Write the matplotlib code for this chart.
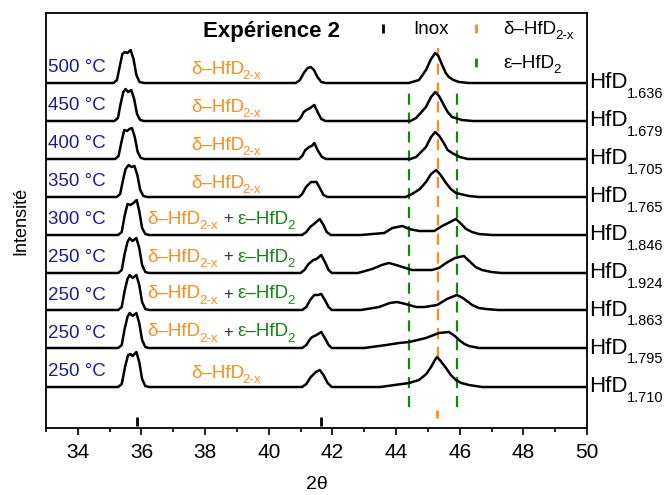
import matplotlib
matplotlib.use('Agg')
import matplotlib.pyplot as plt

plt.rcParams['font.family'] = ['Liberation Sans', 'DejaVu Sans']

# patterns, bottom to top is last to first; intensities above each baseline
temps = ['500 °C', '450 °C', '400 °C', '350 °C', '300 °C', '250 °C', '250 °C', '250 °C', '250 °C']
comps = ['1.636', '1.679', '1.705', '1.765', '1.846', '1.924', '1.863', '1.795', '1.710']
offsets = [345, 307, 269, 231, 193, 155, 118, 80, 41]
mixed = [False, False, False, False, True, True, True, True, False]

x_1636 = [33.0, 35.12, 35.23, 35.32, 35.40, 35.48, 35.56, 35.66, 35.75, 35.84, 35.94, 36.08,
          40.85, 40.98, 41.1, 41.22, 41.32, 41.42, 41.53, 41.65, 41.78,
          44.4, 44.72, 44.94, 45.1, 45.23, 45.33, 45.45, 45.56, 45.66, 45.8, 45.98, 46.3, 50.0]
y_1636 = [0, 0, 3, 17, 29, 31, 30, 33, 24, 8, 1, 0,
          0, 3, 10, 15, 16, 13, 6, 1, 0,
          0, 3, 13, 24, 30, 27, 18, 10, 6, 3, 1, 0, 0]

x_1679 = [33.0, 35.15, 35.26, 35.35, 35.43, 35.5, 35.58, 35.68, 35.77, 35.86, 35.96, 36.08,
          40.9, 41.0, 41.1, 41.18, 41.3, 41.43, 41.55, 41.65, 41.78,
          44.45, 44.63, 44.94, 45.1, 45.23, 45.35, 45.5, 45.62, 45.76, 46.07, 46.4, 50.0]
y_1679 = [0, 0, 3, 18, 29, 32, 29, 31, 22, 7, 1, 0,
          0, 3, 9, 11, 13, 16, 8, 2, 0,
          0, 3, 14, 24, 29, 25, 16, 9, 4, 1, 0, 0]

x_1705 = [33.0, 35.17, 35.28, 35.37, 35.46, 35.55, 35.62, 35.7, 35.79, 35.88, 35.98, 36.1,
          40.95, 41.05, 41.15, 41.27, 41.35, 41.43, 41.55, 41.67, 41.8,
          44.45, 44.63, 44.94, 45.1, 45.23, 45.36, 45.5, 45.62, 45.76, 46.0, 46.25, 50.0]
y_1705 = [0, 0, 3, 17, 29, 28, 30, 31, 22, 7, 1, 0,
          0, 3, 9, 12, 13, 16, 8, 2, 0,
          0, 2, 12, 22, 27, 23, 16, 9, 6, 2, 0, 0]

x_1765 = [33.0, 35.22, 35.33, 35.42, 35.5, 35.6, 35.68, 35.78, 35.87, 35.96, 36.06, 36.18,
          40.95, 41.05, 41.17, 41.33, 41.5, 41.62, 41.72, 41.85,
          44.3, 44.5, 44.75, 44.94, 45.1, 45.26, 45.4, 45.57, 45.72, 45.88, 46.29, 46.6, 50.0]
y_1765 = [0, 0, 3, 17, 28, 32, 30, 31, 22, 7, 1, 0,
          0, 3, 10, 15, 15, 8, 2, 0,
          0, 3, 8, 15, 23, 27, 22, 14, 8, 4, 1, 0, 0]

x_1846 = [33.0, 35.27, 35.38, 35.47, 35.56, 35.65, 35.75, 35.85, 35.93, 36.02, 36.12, 36.23,
          41.05, 41.18, 41.3, 41.42, 41.6, 41.72, 41.82, 41.95,
          42.9, 43.63, 43.88, 44.2, 44.41, 44.72, 45.2, 45.45, 45.7, 45.88, 46.05, 46.2, 46.39, 46.6, 47.0, 50.0]
y_1846 = [0, 0, 3, 19, 31, 30, 32, 35, 24, 7, 1, 0,
          0, 3, 8, 11, 16, 10, 3, 0,
          0, 2, 7, 9, 6, 4, 4, 9, 13, 16, 11, 6, 3, 1, 0, 0]

x_1924 = [33.0, 35.27, 35.38, 35.47, 35.56, 35.63, 35.72, 35.84, 35.93, 36.02, 36.12, 36.23,
          41.0, 41.12, 41.25, 41.4, 41.5, 41.65, 41.78, 41.88, 41.98,
          42.8, 43.25, 43.55, 43.78, 44.0, 44.2, 44.5, 45.13, 45.35, 45.57, 45.85, 46.13, 46.3, 46.5, 46.7, 47.0, 47.3, 50.0]
y_1924 = [0, 0, 3, 19, 31, 35, 32, 35, 25, 8, 1, 0,
          0, 3, 9, 13, 14, 18, 10, 3, 0,
          0, 4, 8, 10, 8, 6, 3, 3, 5, 10, 15, 17, 12, 6, 3, 1, 0, 0]

x_1863 = [33.0, 35.27, 35.38, 35.47, 35.56, 35.63, 35.72, 35.84, 35.93, 36.02, 36.12, 36.23,
          41.05, 41.18, 41.3, 41.43, 41.55, 41.65, 41.78, 41.88, 41.98,
          42.9, 43.47, 43.8, 44.03, 44.3, 44.63, 44.9, 45.29, 45.6, 45.91, 46.1, 46.39, 46.6, 46.82, 47.2, 50.0]
y_1863 = [0, 0, 3, 19, 31, 35, 32, 35, 25, 8, 1, 0,
          0, 3, 10, 15, 15, 16, 9, 3, 0,
          0, 3, 7, 8, 6, 3, 3, 5, 11, 15, 12, 5, 2, 1, 0, 0]

x_1795 = [33.0, 35.27, 35.38, 35.47, 35.56, 35.63, 35.72, 35.84, 35.93, 36.02, 36.12, 36.23,
          41.05, 41.18, 41.3, 41.37, 41.5, 41.65, 41.78, 41.88, 41.98,
          43.0, 43.69, 44.1, 44.41, 44.94, 45.35, 45.66, 45.85, 45.98, 46.15, 46.29, 46.6, 50.0]
y_1795 = [0, 0, 3, 19, 31, 35, 32, 35, 25, 8, 1, 0,
          0, 3, 9, 11, 13, 16, 9, 3, 0,
          0, 3, 5, 6, 10, 15, 16, 12, 8, 4, 2, 0, 0]

x_1710 = [33.0, 35.27, 35.38, 35.49, 35.58, 35.65, 35.72, 35.84, 35.93, 36.02, 36.12, 36.23,
          41.05, 41.18, 41.32, 41.48, 41.6, 41.72, 41.85, 41.98,
          43.5, 44.41, 44.72, 44.95, 45.1, 45.22, 45.29, 45.4, 45.57, 45.72, 45.88, 46.05, 46.29, 46.7, 50.0]
y_1710 = [0, 0, 3, 21, 32, 33, 31, 35, 25, 8, 1, 0,
          0, 3, 10, 15, 17, 12, 4, 0,
          0, 4, 7, 13, 20, 27, 30, 26, 19, 12, 7, 4, 2, 0, 0]

xs = [x_1636, x_1679, x_1705, x_1765, x_1846, x_1924, x_1863, x_1795, x_1710]
ys = [y_1636, y_1679, y_1705, y_1765, y_1846, y_1924, y_1863, y_1795, y_1710]

# reference peak positions
inox_pos = [35.86, 41.63]
delta_pos = 45.33
eps_pos = [44.41, 45.9]

blue = '#1a1aa0'
orange = '#ff8c1a'
green = '#0f8a0f'

fig = plt.figure(figsize=(6.65, 4.95), dpi=100)
ax = fig.add_axes([46/665, 67/495, 541/665, 415/495])

# reference lines (behind curves)
ax.plot([delta_pos, delta_pos], [70, 380], color=orange, lw=1.6, dashes=(5, 3.5), zorder=1)
for p in eps_pos:
    ax.plot([p, p], [21, 341], color=green, lw=1.6, dashes=(5, 3.5), zorder=1)

for x, y, off in zip(xs, ys, offsets):
    ax.plot(x, [v + off for v in y], color='black', lw=1.8, zorder=3)

# reference ticks at the bottom
for p in inox_pos:
    ax.plot([p, p], [2, 11], color='black', lw=2, solid_capstyle='butt')
ax.plot([delta_pos - 0.05, delta_pos - 0.05], [10, 18], color=orange, lw=2, solid_capstyle='butt')


def sub_text(x, y, main, sub, color, size=13.5, subsize=9.5, drop=0.8):
    t = ax.text(x, y, main, color=color, fontsize=size, va='center', ha='left')
    s = ax.annotate(sub, xy=(1, 0), xycoords=t, xytext=(-0.8, drop), textcoords='offset points',
                    color=color, fontsize=subsize, va='center', ha='left')
    return t, s


for i in range(len(offsets)):
    off = offsets[i]
    ax.text(33.05, off + 15, temps[i], color=blue, fontsize=13.5, va='center', ha='left')
    if mixed[i]:
        t1, s1 = sub_text(36.18, off + 16, 'δ–HfD', '2-x', orange)
        plus = ax.annotate('+', xy=(1, 0.5), xycoords=(s1, t1), xytext=(4, 0), textcoords='offset points',
                           color='#333333', fontsize=12, va='center', ha='left')
        t2 = ax.annotate('ε–HfD', xy=(1, 0.5), xycoords=(plus, t1), xytext=(3, 0), textcoords='offset points',
                         color=green, fontsize=13.5, va='center', ha='left')
        ax.annotate('2', xy=(1, 0), xycoords=t2, xytext=(-0.8, 0.8), textcoords='offset points',
                    color=green, fontsize=9.5, va='center', ha='left')
    else:
        sub_text(37.55, off + 14, 'δ–HfD', '2-x', orange)
    t, s = sub_text(50.08, off, 'HfD', comps[i], 'black', size=16, subsize=10.5, drop=-0.5)
    t.set_clip_on(False)

# legend
ax.text(40.1, 397, 'Expérience 2', fontsize=16, fontweight='bold', ha='center', va='center')
ax.plot([43.6, 43.6], [395, 404], color='black', lw=2, solid_capstyle='butt')
ax.text(44.55, 399, 'Inox', fontsize=13.5, va='center', ha='left')
ax.plot([46.5, 46.5], [395, 404], color=orange, lw=2, solid_capstyle='butt')
sub_text(47.38, 399, 'δ–HfD', '2-x', 'black')
ax.plot([46.5, 46.5], [361, 370], color=green, lw=2, solid_capstyle='butt')
sub_text(47.38, 365, 'ε–HfD', '2', 'black')

ax.set_xlim(33, 50)
ax.set_ylim(0, 415)
ax.set_xticks(range(34, 51, 2))
ax.set_xticks(range(33, 51), minor=True)
ax.set_yticks([])
ax.tick_params(axis='x', which='major', length=5, width=1.2, labelsize=15, pad=6, direction='out')
ax.tick_params(axis='x', which='minor', length=3, width=1.2, direction='out')
for sp in ax.spines.values():
    sp.set_linewidth(1.3)
ax.set_xlabel('2θ', fontsize=14, labelpad=10)
ax.set_ylabel('Intensité', fontsize=13, labelpad=12)

plt.savefig('out.png', dpi=100)
